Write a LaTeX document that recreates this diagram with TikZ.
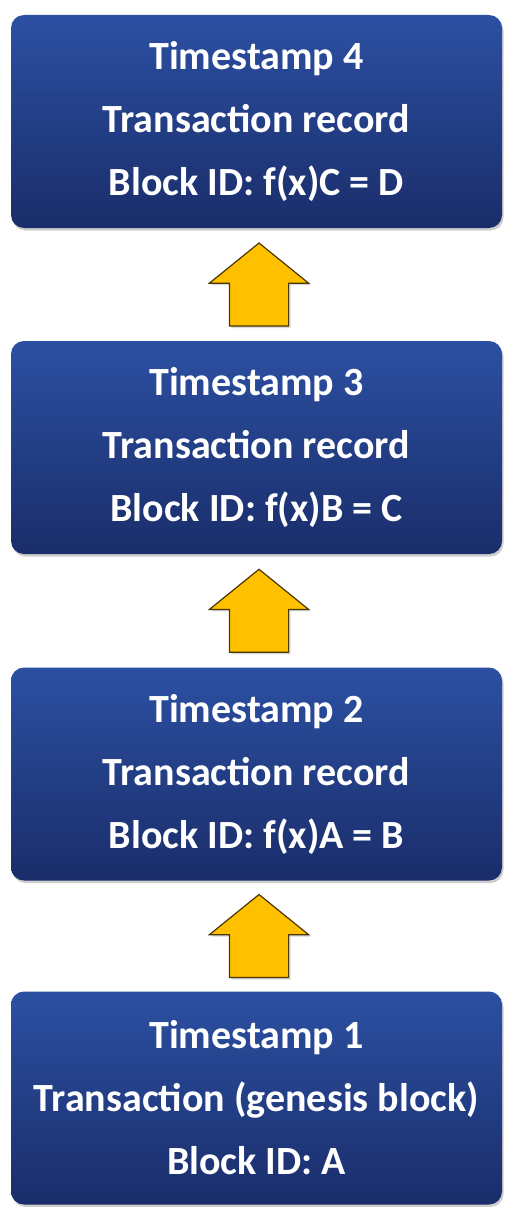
\documentclass[tikz,border=0pt]{standalone}
\usepackage{fontspec}
\setmainfont{Carlito}
\usetikzlibrary{shapes.arrows,shadows,calc}
\definecolor{blocktop}{HTML}{2C50A2}
\definecolor{blockbot}{HTML}{1A2D6A}
\definecolor{arrowgold}{HTML}{FFC000}
\definecolor{arrowedge}{HTML}{4A3600}

\begin{document}
\begin{tikzpicture}[x=1pt,y=-1pt,
  blockbox/.style={rounded corners=13pt,minimum width=491pt,minimum height=213pt,
    top color=blocktop,bottom color=blockbot,text=white,align=center,
    font=\fontsize{40}{63}\selectfont\bfseries,
    drop shadow={shadow xshift=1.5pt,shadow yshift=-2.5pt,fill=gray!55,opacity=0.7}},
  uparrow/.style={single arrow,shape border rotate=90,minimum width=98pt,minimum height=83pt,
    single arrow head extend=20pt,single arrow tip angle=102,inner sep=0pt,
    fill=arrowgold,draw=arrowedge,line width=1.2pt,
    drop shadow={shadow xshift=2pt,shadow yshift=-2pt,fill=gray!60,opacity=0.5}}]

\useasboundingbox[fill=white] (0,0) rectangle (507,1207);

\node[blockbox] (ts4) at (256.5,121.5) {Timestamp 4\\Transaction record\\Block ID: f(x)C = D};
\node[blockbox] (ts3) at (256.5,447.5) {Timestamp 3\\Transaction record\\Block ID: f(x)B = C};
\node[blockbox] (ts2) at (256.5,774) {Timestamp 2\\Transaction record\\Block ID: f(x)A = B};
\node[blockbox] (ts1) at (256.5,1098) {Timestamp 1\\Transaction (genesis block)\\Block ID: A};

\node[uparrow] (up3) at ($(ts4.south)!0.5!(ts3.north)+(2.5,12)$) {\rule{58pt}{0pt}};
\node[uparrow] (up2) at ($(ts3.south)!0.5!(ts2.north)+(2.5,12)$) {\rule{58pt}{0pt}};
\node[uparrow] (up1) at ($(ts2.south)!0.5!(ts1.north)+(2.5,12)$) {\rule{58pt}{0pt}};
\end{tikzpicture}
\end{document}
